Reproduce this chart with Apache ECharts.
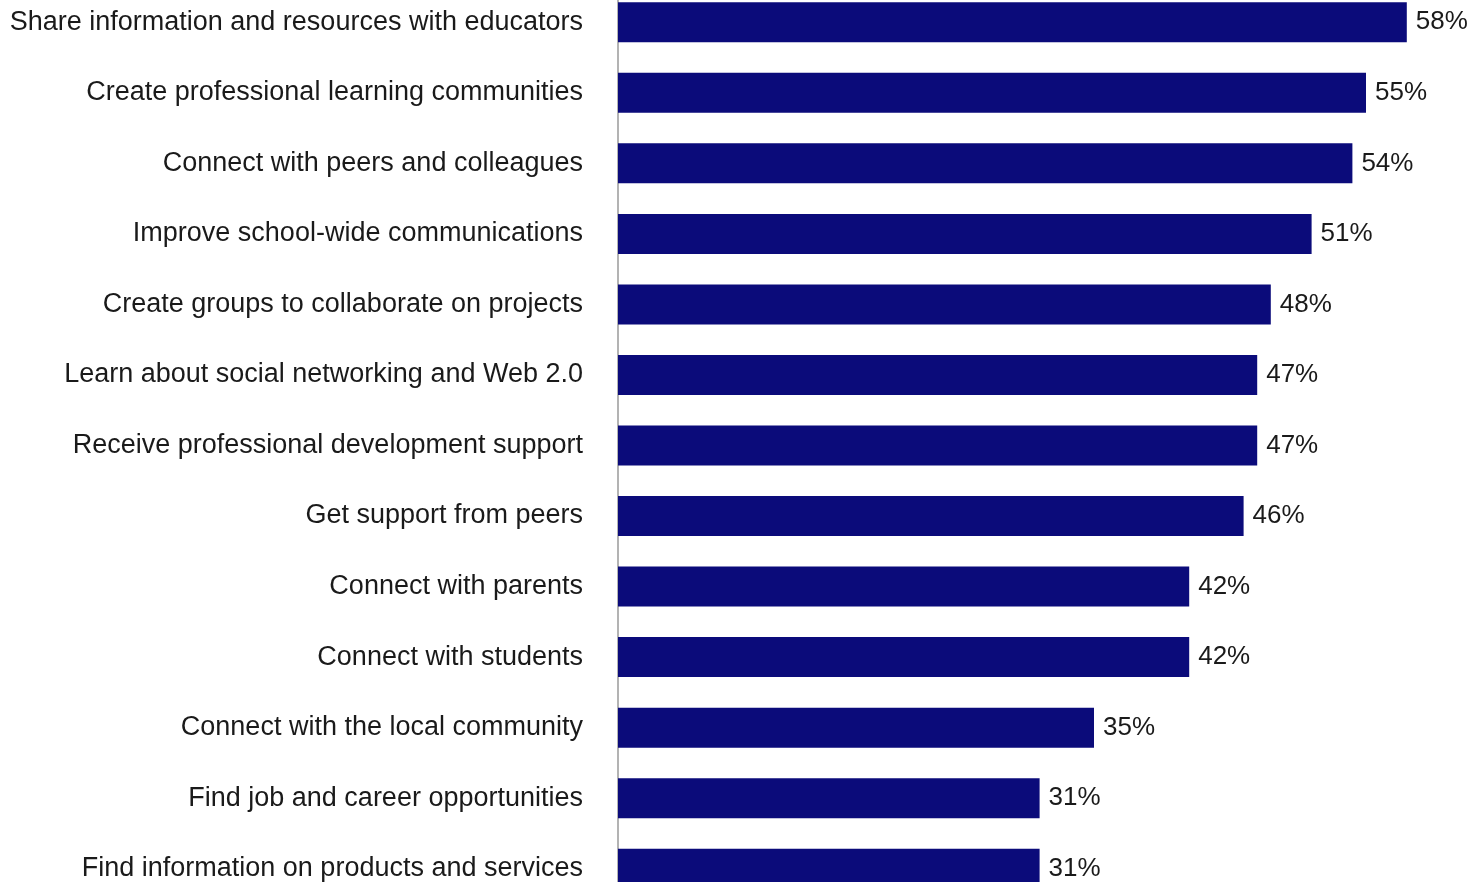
<!DOCTYPE html>
<html>
<head>
<meta charset="utf-8">
<script src="https://cdn.jsdelivr.net/npm/echarts@6/dist/echarts.min.js"></script>
<style>
  html, body { margin: 0; padding: 0; background: #ffffff; overflow: hidden; height: 882px; }
  /* the plot runs slightly past the top and bottom edges of the page */
  #chart { width: 1473px; height: 917px; margin-top: -13px; }
</style>
</head>
<body>
<div id="chart"></div>
<script>
// Uses of social networking by educators, top to bottom
const categories = [
  'Share information and resources with educators',
  'Create professional learning communities',
  'Connect with peers and colleagues',
  'Improve school-wide communications',
  'Create groups to collaborate on projects',
  'Learn about social networking and Web 2.0',
  'Receive professional development support',
  'Get support from peers',
  'Connect with parents',
  'Connect with students',
  'Connect with the local community',
  'Find job and career opportunities',
  'Find information on products and services'
];
const values = [58, 55, 54, 51, 48, 47, 47, 46, 42, 42, 35, 31, 31];

const chart = echarts.init(document.getElementById('chart'), null, { renderer: 'canvas' });
chart.setOption({
  animation: false,
  backgroundColor: '#ffffff',
  grid: { left: 618, right: 39, top: 0, bottom: 0, containLabel: false },
  xAxis: {
    type: 'value', min: 0, max: 60, show: false
  },
  yAxis: {
    type: 'category',
    data: categories,
    inverse: true,
    axisLine: { show: true, lineStyle: { color: '#9a9a9a', width: 1.5 } },
    axisTick: { show: false },
    axisLabel: {
      color: '#1a1a1a', fontSize: 27, fontFamily: 'Liberation Sans, Arial, sans-serif',
      margin: 35
    }
  },
  series: [{
    type: 'bar',
    data: values,
    barWidth: 40,
    itemStyle: { color: '#0b0b7a' },
    label: {
      show: true, position: 'right', distance: 9,
      formatter: '{c}%', color: '#1a1a1a', fontSize: 26,
      fontFamily: 'Liberation Sans, Arial, sans-serif'
    }
  }]
});
</script>
</body>
</html>
